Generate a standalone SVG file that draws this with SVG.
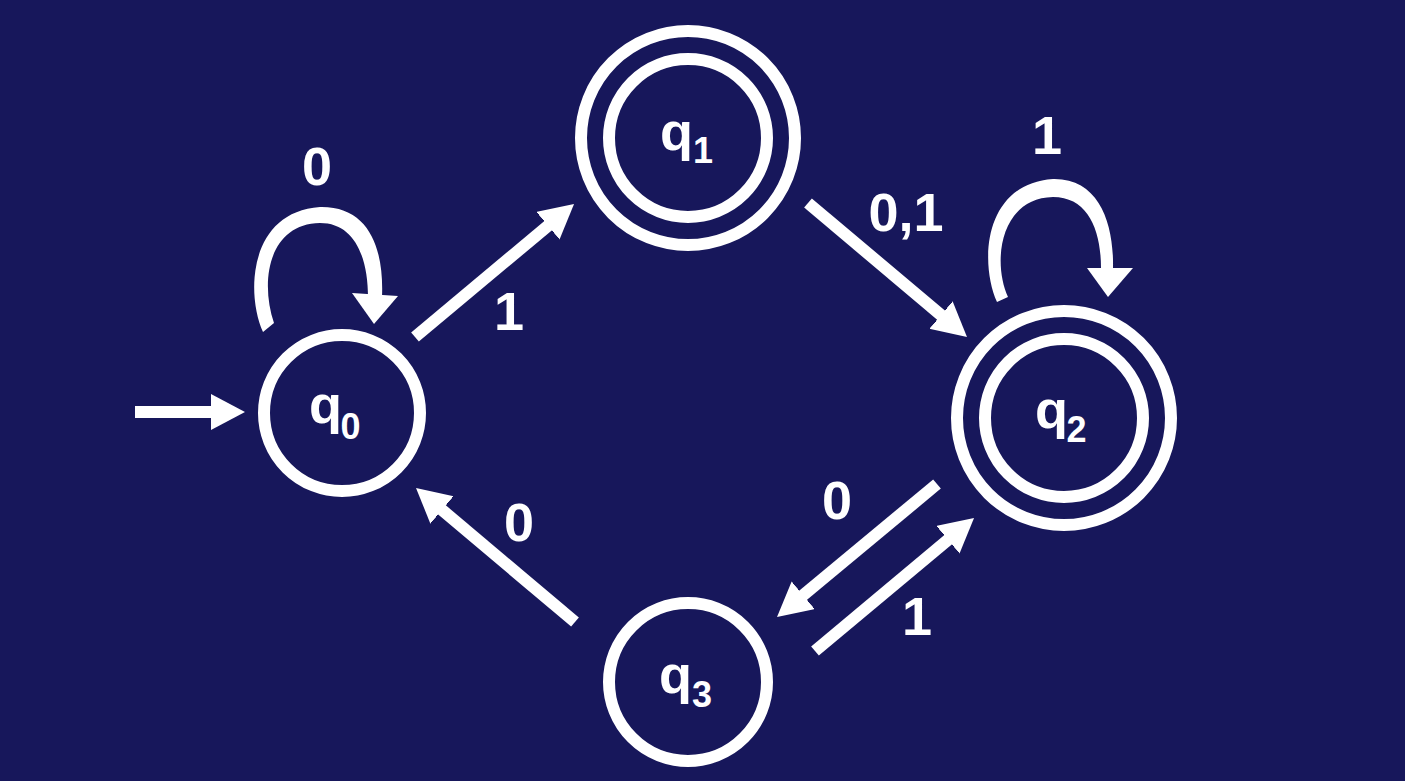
<svg xmlns="http://www.w3.org/2000/svg" width="1405" height="781" viewBox="0 0 1405 781">
<defs>
<style>
.st{fill:none;stroke:#ffffff;stroke-width:12}
.ln{fill:none;stroke:#ffffff;stroke-width:12;stroke-linecap:butt}
.fw{fill:#ffffff;stroke:none}
.lbl{font-family:"Liberation Sans",Arial,sans-serif;font-weight:bold;font-size:54px;fill:#ffffff;text-anchor:middle}
.q{font-family:"Liberation Sans",Arial,sans-serif;font-weight:bold;font-size:54px;fill:#ffffff}
.sub{font-size:36px}
</style>
<marker id="ah" markerUnits="userSpaceOnUse" markerWidth="36" markerHeight="38" viewBox="0 0 36 38" refX="14" refY="18" orient="auto">
<path d="M0,0 L34,18 L0,36 Z" fill="#ffffff"/>
</marker>
</defs>
<rect x="0" y="0" width="1405" height="781" fill="#17175b"/>

<g id="q0">
<circle class="st" cx="342" cy="413" r="78"/>
<text class="q" x="309" y="423">q<tspan class="sub" dx="-1.5" dy="16">0</tspan></text>
</g>
<g id="q1">
<circle class="st" cx="688" cy="138" r="107"/>
<circle class="st" cx="688" cy="138" r="79"/>
<text class="q" x="660" y="150">q<tspan class="sub" dx="0" dy="13">1</tspan></text>
</g>
<g id="q2">
<circle class="st" cx="1064" cy="418" r="107"/>
<circle class="st" cx="1064" cy="418" r="79"/>
<text class="q" x="1035" y="428">q<tspan class="sub" dx="-1.5" dy="14">2</tspan></text>
</g>
<g id="q3">
<circle class="st" cx="688" cy="682" r="79"/>
<text class="q" x="659" y="693">q<tspan class="sub" dx="0" dy="14">3</tspan></text>
</g>

<g id="connectors">
<line class="ln" x1="135" y1="412" x2="225" y2="412" marker-end="url(#ah)"/>
<line class="ln" x1="415" y1="337" x2="558.7" y2="216.8" marker-end="url(#ah)"/>
<line class="ln" x1="808" y1="203" x2="951.7" y2="324.1" marker-end="url(#ah)"/>
<line class="ln" x1="937" y1="484" x2="792.4" y2="604.2" marker-end="url(#ah)"/>
<line class="ln" x1="815" y1="651" x2="958.7" y2="530.8" marker-end="url(#ah)"/>
<line class="ln" x1="575" y1="622" x2="431.3" y2="500.9" marker-end="url(#ah)"/>
<path class="fw" d="M 263 332 C 246 295, 248 212, 320 207 C 370 206, 384 250, 382 297 L 368 297 C 368 258, 355 223, 320 223 C 268 224, 260 282, 274 323 Z"/>
<path class="fw" d="M 352 293 L 398 296 L 374 324 Z"/>
<path class="fw" d="M 997 302 C 980 265, 982 184, 1053 179 C 1100 178, 1114 225, 1113 268 L 1101 268 C 1101 230, 1088 197, 1053 197 C 1000 198, 992 262, 1008 297 Z"/>
<path class="fw" d="M 1087 268 L 1133 268 L 1108 297 Z"/>
</g>

<g id="labels">
<text class="lbl" x="317" y="185">0</text>
<text class="lbl" x="509" y="330">1</text>
<text class="lbl" x="906" y="231">0,1</text>
<text class="lbl" x="1047" y="154">1</text>
<text class="lbl" x="837" y="519">0</text>
<text class="lbl" x="917" y="635">1</text>
<text class="lbl" x="519" y="541">0</text>
</g>
</svg>
